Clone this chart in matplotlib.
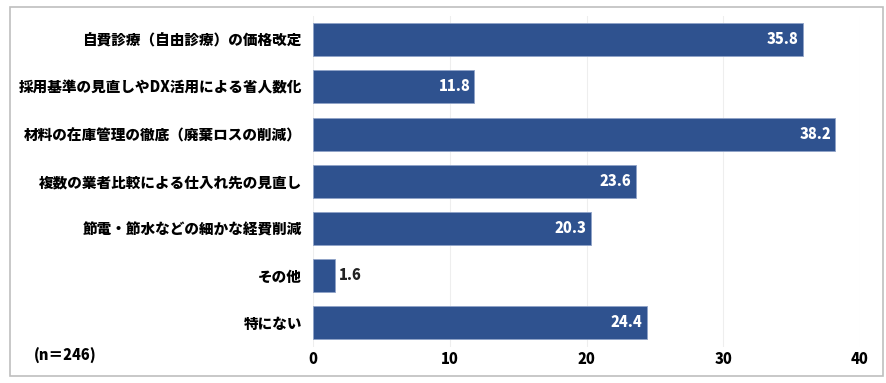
import matplotlib
matplotlib.use("Agg")
import matplotlib.pyplot as plt
from matplotlib.patches import Rectangle

plt.rcParams['font.family'] = ['Noto Sans CJK JP', 'DejaVu Sans']

categories = [
    "自費診療（自由診療）の価格改定",
    "採用基準の見直しやDX活用による省人数化",
    "材料の在庫管理の徹底（廃棄ロスの削減）",
    "複数の業者比較による仕入れ先の見直し",
    "節電・節水などの細かな経費削減",
    "その他",
    "特にない",
]
values = [35.8, 11.8, 38.2, 23.6, 20.3, 1.6, 24.4]
xticks = [0, 10, 20, 30, 40]
note = "(n＝246)"

W, H = 886, 383
fig = plt.figure(figsize=(W / 100, H / 100), dpi=100)
fig.patches.append(Rectangle((10 / W, 1 - 376 / H), 873 / W, 369 / H,
                             transform=fig.transFigure, fill=False,
                             edgecolor='#bfbfbf', linewidth=1.2))

left, right = 313 / W, 860 / W
top, bottom = 1 - 16 / H, 1 - 346.5 / H
ax = fig.add_axes([left, bottom, right - left, top - bottom])

wt = 'heavy'
color = '#2f528f'
y = list(range(len(categories)))
ax.barh(y, values, height=0.7, color=color, edgecolor='#8fa3c8', linewidth=0.6)
ax.set_ylim(len(categories) - 0.5, -0.5)
ax.set_xlim(0, 40)
ax.set_xticks(xticks)
ax.set_xticklabels([str(t) for t in xticks], fontsize=10.5, fontweight=wt)
ax.set_yticks(y)
ax.set_yticklabels(categories, fontsize=10.5, fontweight=wt)
ax.tick_params(axis='both', length=0)
ax.tick_params(axis='y', pad=8)
ax.tick_params(axis='x', pad=4)
for s in ax.spines.values():
    s.set_visible(False)
ax.grid(axis='x', color='#eeeeee', linewidth=0.8)
ax.set_axisbelow(True)

for yi, v in zip(y, values):
    if v > 5:
        ax.text(v - 0.3, yi, f"{v:.1f}", ha='right', va='center', color='white',
                fontsize=10.5, fontweight=wt)
    else:
        ax.text(v + 0.3, yi, f"{v:.1f}", ha='left', va='center', color='#222222',
                fontsize=10.5, fontweight=wt)

fig.text(34 / W, 1 - 356 / H, note, ha='left', va='center', fontsize=10.5,
         fontweight=wt)

fig.savefig("out.png", dpi=100)
